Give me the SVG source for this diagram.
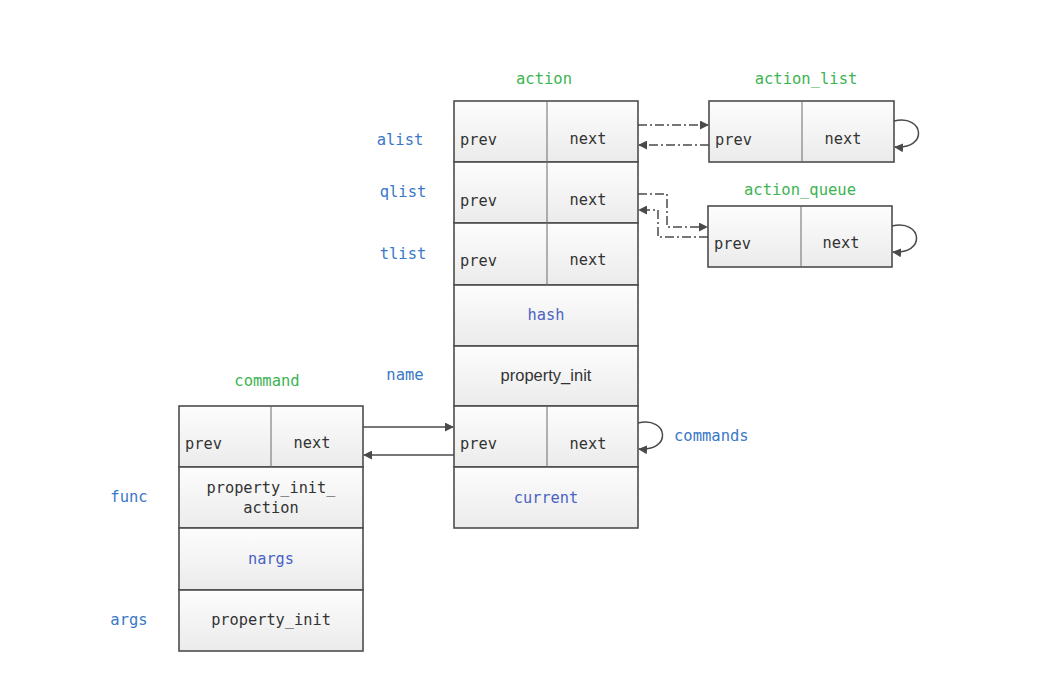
<svg xmlns="http://www.w3.org/2000/svg" width="1039" height="688" viewBox="0 0 1039 688">
<defs>
<linearGradient id="cell" x1="0" y1="0" x2="0" y2="1">
<stop offset="0" stop-color="#fdfdfd"/>
<stop offset="1" stop-color="#ebebeb"/>
</linearGradient>
<marker id="arr" viewBox="0 0 10 10" refX="9" refY="5" markerWidth="9" markerHeight="9" markerUnits="userSpaceOnUse" orient="auto">
<path d="M0,0 L10,5 L0,10 Z" fill="#4a4a4a"/>
</marker>
<style>
.c{fill:url(#cell);stroke:#4d4d4d;stroke-width:1.6}
.d{stroke:#6a6a6a;stroke-width:1}
.t{font-family:"DejaVu Sans Mono","Liberation Mono",monospace;font-size:15.3px;fill:#333}
.b{font-family:"DejaVu Sans Mono","Liberation Mono",monospace;font-size:15.3px;fill:#4a62c4}
.l{font-family:"DejaVu Sans Mono","Liberation Mono",monospace;font-size:15.5px;fill:#3a78c8}
.g{font-family:"DejaVu Sans Mono","Liberation Mono",monospace;font-size:15.5px;fill:#3db452}
.p{font-family:"Liberation Sans","Open Sans",sans-serif;font-size:16.5px;fill:#333}
.m{text-anchor:middle}
.ln{fill:none;stroke:#4a4a4a;stroke-width:1.5}
.dd{fill:none;stroke:#4a4a4a;stroke-width:1.5;stroke-dasharray:9 3 2 3}
</style>
</defs>
<rect width="1039" height="688" fill="#fff"/>

<g id="action">
<text class="g m" x="544" y="84">action</text>
<rect class="c" x="454" y="101" width="184" height="61"/>
<rect class="c" x="454" y="162" width="184" height="61"/>
<rect class="c" x="454" y="223" width="184" height="62"/>
<rect class="c" x="454" y="285" width="184" height="61"/>
<rect class="c" x="454" y="346" width="184" height="60"/>
<rect class="c" x="454" y="406" width="184" height="61"/>
<rect class="c" x="454" y="467" width="184" height="61"/>
<line class="d" x1="547" y1="101" x2="547" y2="285"/>
<line class="d" x1="547" y1="406" x2="547" y2="467"/>
<text class="t" x="460" y="145">prev</text><text class="t m" x="588" y="144">next</text>
<text class="t" x="460" y="206">prev</text><text class="t m" x="588" y="205">next</text>
<text class="t" x="460" y="266">prev</text><text class="t m" x="588" y="265">next</text>
<text class="b m" x="546" y="320">hash</text>
<text class="p m" x="546" y="381">property_init</text>
<text class="t" x="460" y="449">prev</text><text class="t m" x="588" y="449">next</text>
<text class="b m" x="546" y="503">current</text>
<text class="l m" x="400" y="145">alist</text>
<text class="l m" x="403" y="197">qlist</text>
<text class="l m" x="403" y="259">tlist</text>
<text class="l m" x="405" y="380">name</text>
<text class="l" x="674" y="441">commands</text>
</g>

<g id="action_list">
<text class="g m" x="806" y="84">action_list</text>
<rect class="c" x="709" y="101" width="185" height="61"/>
<line class="d" x1="802" y1="101" x2="802" y2="162"/>
<text class="t" x="715" y="145">prev</text><text class="t m" x="843" y="144">next</text>
</g>

<g id="action_queue">
<text class="g m" x="800" y="195">action_queue</text>
<rect class="c" x="708" y="206" width="184" height="61"/>
<line class="d" x1="801" y1="206" x2="801" y2="267"/>
<text class="t" x="714" y="249">prev</text><text class="t m" x="841" y="248">next</text>
</g>

<g id="command">
<text class="g m" x="267" y="386">command</text>
<rect class="c" x="179" y="406" width="184" height="61"/>
<rect class="c" x="179" y="467" width="184" height="61"/>
<rect class="c" x="179" y="528" width="184" height="62"/>
<rect class="c" x="179" y="590" width="184" height="61"/>
<line class="d" x1="271" y1="406" x2="271" y2="467"/>
<text class="t" x="185" y="449">prev</text><text class="t m" x="312" y="448">next</text>
<text class="t m" x="271" y="493">property_init_</text>
<text class="t m" x="271" y="513">action</text>
<text class="b m" x="271" y="564">nargs</text>
<text class="t m" x="271" y="625">property_init</text>
<text class="l m" x="129" y="502">func</text>
<text class="l m" x="129" y="625">args</text>
</g>

<g id="connectors">
<path class="dd" d="M638,125 H708" marker-end="url(#arr)"/>
<path class="dd" d="M709,145 H639" marker-end="url(#arr)"/>
<path class="dd" d="M638,194 H667 V227 H707" marker-end="url(#arr)"/>
<path class="dd" d="M708,237 H658 V210 H639" marker-end="url(#arr)"/>
<path class="ln" d="M894,121 C925,114 928,150 895,147" marker-end="url(#arr)"/>
<path class="ln" d="M892,226 C923,219 926,255 893,252" marker-end="url(#arr)"/>
<path class="ln" d="M638,423 C669,416 672,452 639,449" marker-end="url(#arr)"/>
<path class="ln" d="M363,427 H453" marker-end="url(#arr)"/>
<path class="ln" d="M454,455 H364" marker-end="url(#arr)"/>
</g>
</svg>
